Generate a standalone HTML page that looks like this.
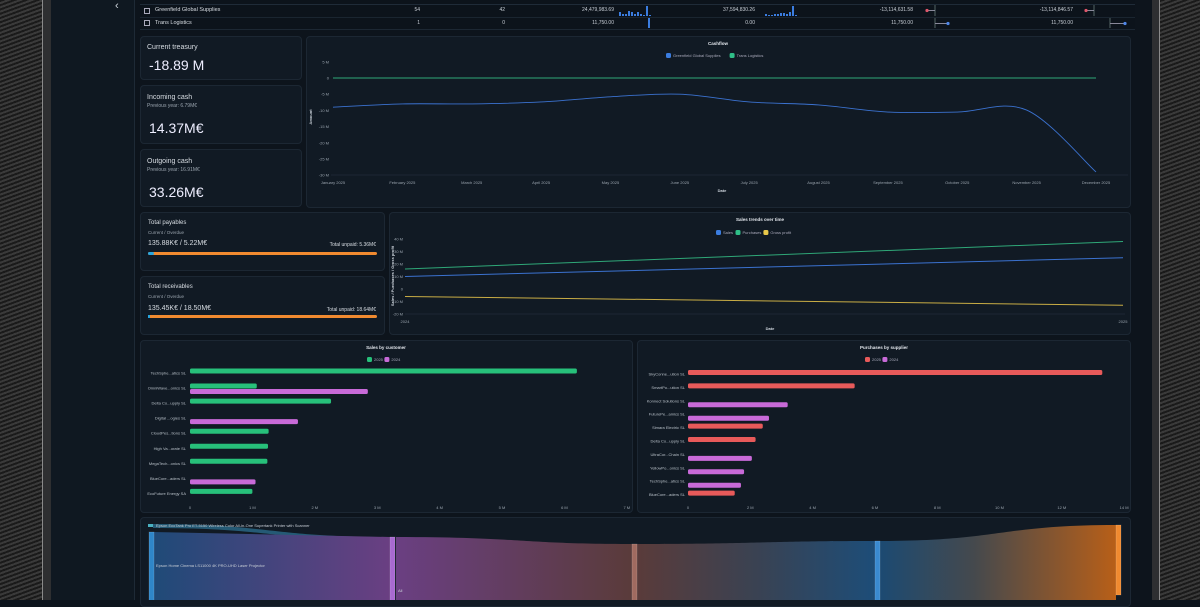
<!DOCTYPE html>
<html><head><meta charset="utf-8">
<style>
*{box-sizing:border-box;margin:0;padding:0}
body{width:1200px;height:600px;overflow:hidden;background:#0d141c;font-family:"Liberation Sans",sans-serif;color:#d8dde3;position:relative}
.abs{position:absolute}
.tex{background:repeating-linear-gradient(160deg,#1a1a1a 0 2px,#3a3a3a 2px 4px);}
.card{position:absolute;background:#111a24;border:1px solid #1c2733;border-radius:4px}
.t{position:absolute;white-space:nowrap}
svg text{font-family:"Liberation Sans",sans-serif}
</style></head><body>
<div class="abs tex" style="left:0;top:0;width:42px;height:600px"></div>
<div class="abs" style="left:42px;top:0;width:9px;height:600px;background:#2e2f31;border-left:1px solid #8a8a8a"></div>
<div class="abs tex" style="left:1160px;top:0;width:40px;height:600px"></div>
<div class="abs" style="left:1152px;top:0;width:8px;height:600px;background:#2e2f31;border-right:1px solid #8a8a8a"></div>
<div class="abs" style="left:51px;top:0;width:84px;height:600px;background:#0f1821;border-right:1px solid #1e2a36"></div>
<div class="t" style="left:115px;top:0;font-size:11px;color:#cfd6de">‹</div>

<!-- table -->
<div class="abs" style="left:140px;top:0;width:995px;height:30px;background:#0c131b;border-bottom:1px solid #1c2733">
 <div class="abs" style="left:0;top:4px;width:995px;height:1px;background:#1f2b38"></div>
 <div class="abs" style="left:0;top:17px;width:995px;height:1px;background:#1a2530"></div>
</div>
<div class="abs" style="left:144px;top:8px;width:6px;height:6px;border:1px solid #aab"></div>
<div class="abs" style="left:144px;top:20px;width:6px;height:6px;border:1px solid #aab"></div>
<div class="t" style="left:155px;top:7px;font-size:5.5px">Greenfield Global Supplies</div>
<div class="t" style="left:155px;top:20px;font-size:5.5px">Trans Logistics</div>

<!-- KPI cards -->
<div class="card" style="left:140px;top:36px;width:162px;height:44px">
 <div class="t" style="left:6px;top:7px;font-size:7px">Current treasury</div>
 <div class="t" style="left:8px;top:20px;font-size:14px;color:#eef">-18.89 M</div></div>
<div class="card" style="left:140px;top:85px;width:162px;height:59px">
 <div class="t" style="left:6px;top:8px;font-size:7px">Incoming cash</div>
 <div class="t" style="left:6px;top:17px;font-size:5px;color:#9aa4ae">Previous year: 6.79M€</div>
 <div class="t" style="left:8px;top:34px;font-size:14px;color:#eef">14.37M€</div></div>
<div class="card" style="left:140px;top:149px;width:162px;height:58px">
 <div class="t" style="left:6px;top:8px;font-size:7px">Outgoing cash</div>
 <div class="t" style="left:6px;top:17px;font-size:5px;color:#9aa4ae">Previous year: 16.91M€</div>
 <div class="t" style="left:8px;top:34px;font-size:14px;color:#eef">33.26M€</div></div>

<div class="card" style="left:306px;top:36px;width:825px;height:172px"></div>
<div class="card" style="left:140px;top:212px;width:245px;height:59px">
 <div class="t" style="left:7px;top:7px;font-size:6px">Total payables</div>
 <div class="t" style="left:7px;top:17px;font-size:4.5px;color:#9aa4ae">Current / Overdue</div>
 <div class="t" style="left:7px;top:27px;font-size:7px">135.88K€ / 5.22M€</div>
 <div class="t" style="right:8px;top:29px;font-size:5px">Total unpaid: 5.36M€</div>
 <div class="abs" style="left:7px;top:39px;width:229px;height:3px;background:#f08a30;border-radius:2px"><div style="width:6px;height:3px;background:#29a6de;border-radius:2px"></div></div></div>
<div class="card" style="left:140px;top:276px;width:245px;height:59px">
 <div class="t" style="left:7px;top:7px;font-size:6px">Total receivables</div>
 <div class="t" style="left:7px;top:17px;font-size:4.5px;color:#9aa4ae">Current / Overdue</div>
 <div class="t" style="left:7px;top:28px;font-size:7px">135.45K€ / 18.50M€</div>
 <div class="t" style="right:8px;top:30px;font-size:5px">Total unpaid: 18.64M€</div>
 <div class="abs" style="left:7px;top:38px;width:229px;height:3px;background:#f08a30;border-radius:2px"><div style="width:2px;height:3px;background:#29a6de"></div></div></div>
<div class="card" style="left:389px;top:212px;width:742px;height:123px"></div>
<div class="card" style="left:140px;top:340px;width:493px;height:173px"></div>
<div class="card" style="left:637px;top:340px;width:494px;height:173px"></div>
<div class="card" style="left:140px;top:517px;width:991px;height:90px"></div>

<svg id="s" class="abs" width="1200" height="600" style="left:0;top:0" xmlns="http://www.w3.org/2000/svg">
<defs>
<linearGradient id="g1" x1="0" x2="1"><stop offset="0" stop-color="#1f4a78"/><stop offset="1" stop-color="#6a3f82"/></linearGradient>
<linearGradient id="g2" x1="0" x2="1"><stop offset="0" stop-color="#6a3f82"/><stop offset="1" stop-color="#5a3b3a"/></linearGradient>
<linearGradient id="g3" x1="0" x2="1"><stop offset="0" stop-color="#5a3b3a"/><stop offset="0.5" stop-color="#3a4252"/><stop offset="1" stop-color="#1d4d78"/></linearGradient>
<linearGradient id="g4" x1="0" x2="1"><stop offset="0" stop-color="#1c4a72"/><stop offset="0.4" stop-color="#45494d"/><stop offset="1" stop-color="#b85f18"/></linearGradient>
</defs>
</svg>
<script>
// ---------- data ----------
const months=["January 2025","February 2025","March 2025","April 2025","May 2025","June 2025","July 2025","August 2025","September 2025","October 2025","November 2025","December 2025"];
const cashGreenfield=[-9,-8,-8,-7.4,-5.8,-5,-7.4,-8.3,-10.5,-10.5,-9.9,-29];
const cashTrans=[0,0,0,0,0,0,0,0,0,0,0,0];
const cashTicks=[5,0,-5,-10,-15,-20,-25,-30];
const trendYears=["2024","2025"];
const trendSales=[10,25];
const trendPurchases=[16,38];
const trendProfit=[-6,-13];
const trendTicks=[40,30,20,10,0,-10,-20];
const customers=["TechSphe...atics SL","OmniWave...onics SL","Delta Co...upply SL","Digital ...ogies SL","CloudPes...tions SL","High Va...orate SL","MegaTech...onics SL","BlueCore...aders SL","EcoFuture Energy SA"];
const cust2025=[6.2,1.07,2.26,null,1.26,1.25,1.24,null,1.0];
const cust2024=[null,2.85,null,1.73,null,null,null,1.05,null];
const custTicks=[0,1,2,3,4,5,6,7];
const suppliers=["SkyConne...ution SL","SmartPo...ution SL","Konnect Solutions SL","FuturePe...amics SL","Simara Electric SL","Delta Co...upply SL","UltraCor...Chain SL","YellowPo...onics SL","TechSphe...atics SL","BlueCore...aders SL"];
const supp2025=[13.3,5.35,null,null,2.4,2.17,null,null,null,1.5];
const supp2024=[null,null,3.2,2.6,null,null,2.05,1.8,1.7,null];
const suppTicks=[0,2,4,6,8,10,12,14];
// ---------- helpers ----------
const S=document.getElementById('s');const NS="http://www.w3.org/2000/svg";
function mk(tag,at,txt){const e=document.createElementNS(NS,tag);for(const k in at)e.setAttribute(k,at[k]);if(txt!==undefined)e.textContent=txt;S.appendChild(e);return e;}
function txt(x,y,s,sz,col,anchor,w){return mk('text',{x:x,y:y,'font-size':sz,fill:col||'#9aa4ae','text-anchor':anchor||'middle','font-weight':w||'normal'},s);}
function legend(x,y,items){let cx=x;items.forEach(it=>{const r=mk('rect',{x:cx,y:y-4,width:5,height:5,rx:1.5,fill:it[1]});const t=txt(cx+7,y,it[0],4,'#aab','start');cx+=9+it[0].length*2.1;});}
// ---------- table cells ----------
const tc=[[420,11,"54"],[505,11,"42"],[614,11,"24,479,983.69"],[755,11,"37,594,830.26"],[913,11,"-13,114,631.58"],[1073,11,"-13,114,846.57"],[420,24,"1"],[505,24,"0"],[614,24,"11,750.00"],[755,24,"0.00"],[913,24,"11,750.00"],[1073,24,"11,750.00"]];
tc.forEach(c=>{const t=txt(c[0],c[1],c[2],5,'#c8ced6','end');});
const spark1=[4,2,2,5,4,2,4,2,1,10,1];const spark2=[2,1,1,2,2,3,3,2,4,10,1];
spark1.forEach((v,i)=>{const r=mk('rect',{x:619+i*3,y:16-v,width:2,height:v,fill:'#3b7de0'});});
spark2.forEach((v,i)=>{const r=mk('rect',{x:765+i*3,y:16-v,width:2,height:v,fill:'#3b7de0'});});
mk('rect',{x:648,y:18,width:2,height:10,fill:'#3b7de0'});
[935,1094].forEach(x=>{mk('line',{x1:x,y1:5,x2:x,y2:16,stroke:'#566'});});
mk('line',{x1:927,y1:10.5,x2:935,y2:10.5,stroke:'#889'});mk('circle',{cx:927,cy:10.5,r:1.6,fill:'#e0566a'});
mk('line',{x1:1086,y1:10.5,x2:1094,y2:10.5,stroke:'#889'});mk('circle',{cx:1086,cy:10.5,r:1.6,fill:'#e0566a'});
mk('line',{x1:935,y1:18,x2:935,y2:28,stroke:'#566'});mk('line',{x1:935,y1:23.5,x2:948,y2:23.5,stroke:'#889'});mk('circle',{cx:948,cy:23.5,r:1.6,fill:'#4f86e8'});
mk('line',{x1:1110,y1:18,x2:1110,y2:28,stroke:'#566'});mk('line',{x1:1110,y1:23.5,x2:1125,y2:23.5,stroke:'#889'});mk('circle',{cx:1125,cy:23.5,r:1.6,fill:'#4f86e8'});
// ---------- cashflow ----------
const cx0=333,cdx=(1096-333)/11;const cY=v=>78-v*16.2/5;const cX=i=>cx0+i*cdx;
txt(718,45,"Cashflow",4.5,'#e4e8ee','middle','bold');
legend(666,57,[["Greenfield Global Supplies","#3b7de0"],["Trans Logistics","#2fbf88"]]);
cashTicks.forEach(v=>{txt(329,cY(v)+1.5,v===0?"0":v+" M",4,'#9aa4ae','end');});
mk('line',{x1:331,y1:175,x2:1128,y2:175,stroke:'#2a3542','stroke-width':0.5});
months.forEach((m,i)=>txt(cX(i),184,m,4,'#9aa4ae'));
txt(722,192,"Date",4,'#cfd6de','middle','bold');
const ya=txt(312,117,"Amount",4,'#cfd6de','middle','bold');ya.setAttribute('transform','rotate(-90 312 117)');
function smooth(pts){let d="M"+pts[0][0]+","+pts[0][1];for(let i=0;i<pts.length-1;i++){const p0=pts[i-1]||pts[i],p1=pts[i],p2=pts[i+1],p3=pts[i+2]||p2;d+=" C"+(p1[0]+(p2[0]-p0[0])/6)+","+(p1[1]+(p2[1]-p0[1])/6)+" "+(p2[0]-(p3[0]-p1[0])/6)+","+(p2[1]-(p3[1]-p1[1])/6)+" "+p2[0]+","+p2[1];}return d;}
let p=mk('path',{d:smooth(cashTrans.map((v,i)=>[cX(i),cY(v)])),stroke:'#2fa878',fill:'none','stroke-width':0.9});
p=mk('path',{d:smooth(cashGreenfield.map((v,i)=>[cX(i),cY(v)])),stroke:'#3b72d0',fill:'none','stroke-width':0.9});
// ---------- sales trends ----------
const tY=v=>239+(40-v)*1.25;const tX=i=>405+i*(1123-405);
txt(760,221,"Sales trends over time",4.5,'#e4e8ee','middle','bold');
legend(716,234,[["Sales","#3b7de0"],["Purchases","#2fbf88"],["Gross profit","#e8c84a"]]);
trendTicks.forEach(v=>txt(403,tY(v)+1.5,v===0?"0":v+" M",4,'#9aa4ae','end'));
mk('line',{x1:405,y1:314,x2:1125,y2:314,stroke:'#2a3542','stroke-width':0.5});
trendYears.forEach((y,i)=>txt(tX(i),323,y,4,'#9aa4ae'));
txt(770,330,"Date",4,'#cfd6de','middle','bold');
const ty=txt(394,276,"Sales / Purchases / Gross profit",4,'#cfd6de','middle','bold');ty.setAttribute('transform','rotate(-90 394 276)');
[[trendPurchases,'#2fa878','purchases-line'],[trendSales,'#3b72d0','sales-line'],[trendProfit,'#c9ad45','gross-profit-line']].forEach(s=>{const l=mk('line',{x1:tX(0),y1:tY(s[0][0]),x2:tX(1),y2:tY(s[0][1]),stroke:s[1],'stroke-width':1});});
// ---------- sales by customer ----------
const kX=v=>190+v*62.4;const kC=i=>373+i*15.05;
txt(386,349,"Sales by customer",4.5,'#e4e8ee','middle','bold');
legend(367,361,[["2025","#27c07a"],["2024","#c86ad8"]]);
custTicks.forEach(v=>txt(kX(v),509,v===0?"0":v+" M",4,'#9aa4ae'));
customers.forEach((c,i)=>{txt(186,kC(i)+1.5,c,4,'#b8c0c8','end');
 if(cust2025[i]!=null){const r=mk('rect',{x:kX(0),y:kC(i)-4.5,width:kX(cust2025[i])-kX(0),height:5,rx:1.5,fill:'#27c07a'});}
 if(cust2024[i]!=null){const r=mk('rect',{x:kX(0),y:kC(i)+1,width:kX(cust2024[i])-kX(0),height:5,rx:1.5,fill:'#c86ad8'});}});
// ---------- purchases by supplier ----------
const pX=v=>688+v*31.15;const pC=i=>374+i*13.4;
txt(884,349,"Purchases by supplier",4.5,'#e4e8ee','middle','bold');
legend(865,361,[["2025","#e85a5a"],["2024","#c86ad8"]]);
suppTicks.forEach(v=>txt(pX(v),509,v===0?"0":v+" M",4,'#9aa4ae'));
suppliers.forEach((c,i)=>{txt(685,pC(i)+1.5,c,4,'#b8c0c8','end');
 if(supp2025[i]!=null){const r=mk('rect',{x:pX(0),y:pC(i)-4,width:pX(supp2025[i])-pX(0),height:5,rx:1.5,fill:'#e85a5a'});}
 if(supp2024[i]!=null){const r=mk('rect',{x:pX(0),y:pC(i)+1.5,width:pX(supp2024[i])-pX(0),height:5,rx:1.5,fill:'#c86ad8'});}});
// ---------- sankey ----------
mk('path',{d:"M153,524 C270,524 270,537 390,537 L390,540 C270,540 270,528 153,528 Z",fill:'#2a6a8a',opacity:0.8});
mk('path',{d:"M153,532 L390,537 L390,600 L153,600 Z",fill:'url(#g1)'});
mk('path',{d:"M396,537 C520,537 520,544 632,544 L632,600 L396,600 Z",fill:'url(#g2)'});
mk('path',{d:"M636,544 C760,544 760,541 875,541 L875,600 L636,600 Z",fill:'url(#g3)'});
mk('path',{d:"M880,541 C1000,541 1000,525 1116,525 L1116,600 L880,600 Z",fill:'url(#g4)'});
[[149,532,'#2f86c8'],[390,537,'#a86ad0'],[632,544,'#a06a60'],[875,541,'#3a8ad0'],[1116,525,'#f08a30']].forEach(n=>{const r=mk('rect',{x:n[0],y:n[1],width:5,height:70,fill:n[2],stroke:'#ffffff44','stroke-width':0.5});});
mk('rect',{x:148,y:524,width:5,height:3,fill:'#4ab0c0'});
txt(156,527,"Epson EcoTank Pro ET-5150 Wireless Color All-in-One Supertank Printer with Scanner",4,'#c8ced6','start');
txt(156,567,"Epson Home Cinema LS11000 4K PRO-UHD Laser Projector",4,'#c8ced6','start');
txt(398,592,"All",4,'#c8ced6','start');
</script>
</body></html>
